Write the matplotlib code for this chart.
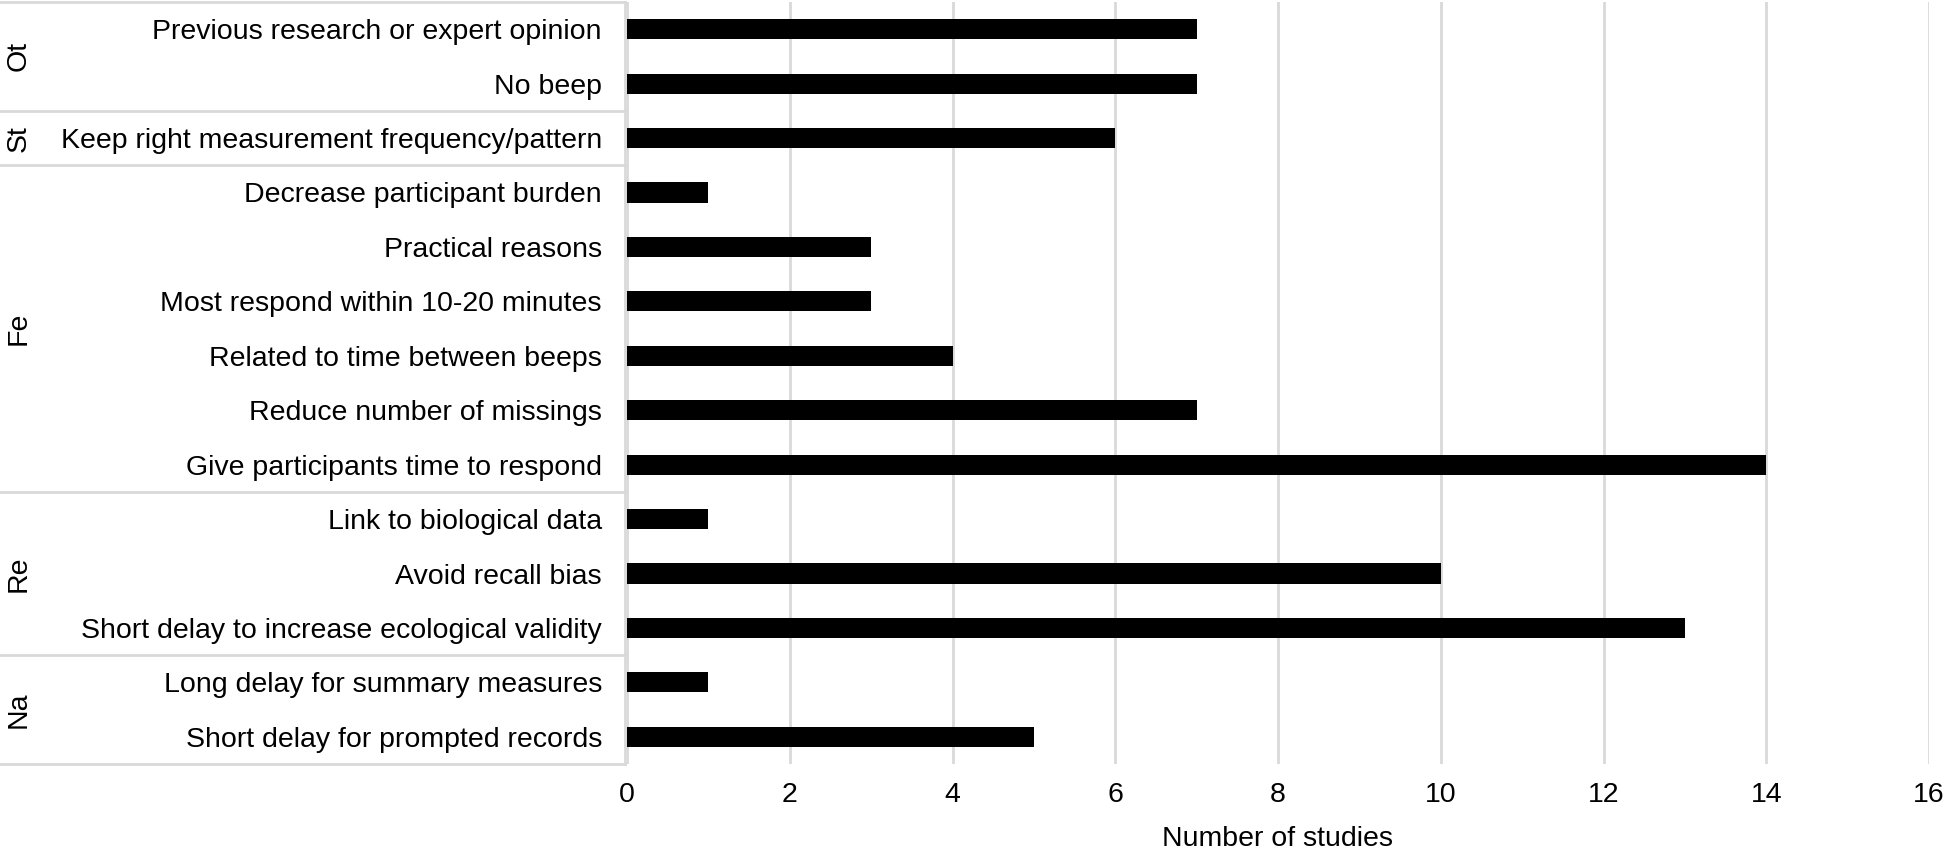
import matplotlib
matplotlib.use("Agg")
import matplotlib.pyplot as plt
import matplotlib.transforms as mtransforms
import numpy as np

plt.rcParams['font.family'] = ['Liberation Sans', 'DejaVu Sans']

# data (top to bottom)
reasons = ["Previous research or expert opinion", "No beep",
           "Keep right measurement frequency/pattern",
           "Decrease participant burden", "Practical reasons",
           "Most respond within 10-20 minutes", "Related to time between beeps",
           "Reduce number of missings", "Give participants time to respond",
           "Link to biological data", "Avoid recall bias",
           "Short delay to increase ecological validity",
           "Long delay for summary measures", "Short delay for prompted records"]
studies = [7, 7, 6, 1, 3, 3, 4, 7, 14, 1, 10, 13, 1, 5]
groups = ["Ot", "St", "Fe", "Re", "Na"]
group_sizes = [2, 1, 6, 3, 2]

grid_col = "#d9d9d9"
fs = 20.5

fig = plt.figure(figsize=(19.45, 8.5), dpi=100)
ax = fig.add_axes([627/1945, 1-764/850, (1929-627)/1945, 762/850])

ypos = np.arange(len(reasons))
ax.barh(ypos, studies, height=0.37, color="black", zorder=3)
ax.set_ylim(len(reasons) - 0.5, -0.5)
ax.set_xlim(0, 16)
ax.set_xticks(range(0, 17, 2))
ax.set_yticks(ypos)
ax.set_yticklabels(reasons, fontsize=fs)
ax.tick_params(axis='y', length=0, pad=18)
ax.tick_params(axis='x', length=0, pad=13, labelsize=fs)
ax.xaxis.grid(True, color=grid_col, linewidth=2)
ax.set_axisbelow(True)
for s in ax.spines.values():
    s.set_visible(False)
ax.set_xlabel("Number of studies", fontsize=fs, labelpad=13)

# group table on the left
trans = mtransforms.blended_transform_factory(fig.transFigure, ax.transData)
x_line = 625/1945
start = -0.5
ax.plot([0, x_line], [start, start], transform=trans, color=grid_col,
        lw=2, clip_on=False)
for g, n in zip(groups, group_sizes):
    end = start + n
    ax.plot([0, x_line], [end, end], transform=trans, color=grid_col,
            lw=2, clip_on=False)
    ax.text(19/1945, (start + end) / 2, g, transform=trans, rotation=90,
            ha='center', va='center', fontsize=fs)
    start = end
ax.plot([x_line, x_line], [-0.5, len(reasons) - 0.5], transform=trans,
        color=grid_col, lw=2, clip_on=False)

fig.savefig("out.png", dpi=100)
